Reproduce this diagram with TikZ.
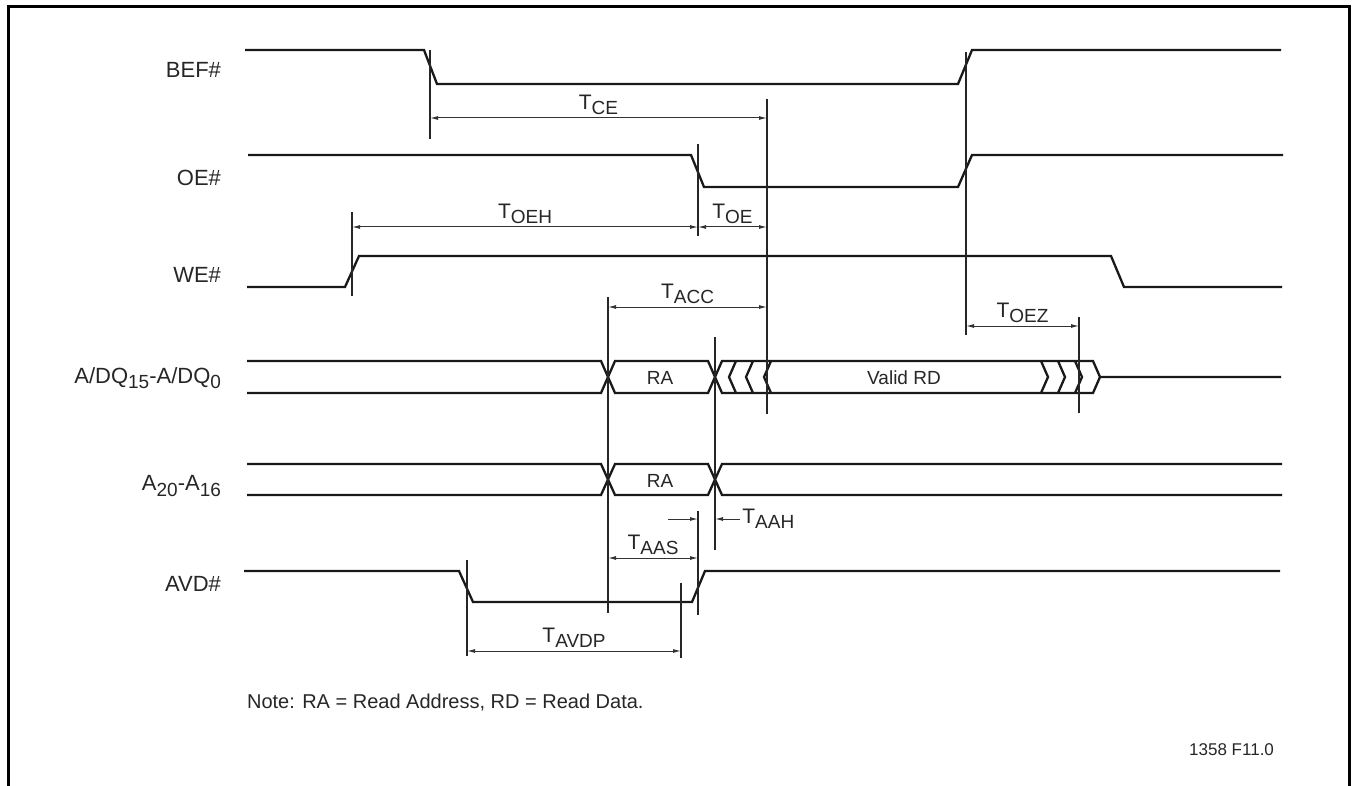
\documentclass[tikz,border=0pt]{standalone}
\usepackage{fontspec}
\setmainfont{Liberation Sans}
\usepackage{tikz}
\usetikzlibrary{arrows.meta}

\newcommand{\subs}[1]{\raisebox{-0.45ex}{\fontsize{9.5}{11}\selectfont #1}}
\newcommand{\Tsub}[1]{T\subs{#1}}

\begin{document}
\begin{tikzpicture}[x=0.5pt,y=-0.5pt,
      sig/.style={draw=black!90,line width=1.15pt},
      refline/.style={draw=black!85,line width=0.55pt},
      dim/.style={draw=black!80,line width=0.5pt,{Latex[length=4pt,width=2pt]}-{Latex[length=4pt,width=2pt]}},
      half/.style={draw=black!80,line width=0.5pt,-{Latex[length=4pt,width=2pt]}},
      lbl/.style={anchor=east,text=black!85,font=\fontsize{11}{13}\selectfont},
      tlbl/.style={above,inner sep=1.5pt,text=black!85,font=\fontsize{10.5}{12}\selectfont},
      bus/.style={text=black!85,font=\fontsize{9.5}{11}\selectfont}]
      \useasboundingbox (0,0) rectangle (1354,786);
      \draw[line width=1.5pt] (8,786) -- (8,7) -- (1349,7) -- (1349,786);

      \node[lbl] (bef) at (228,70) {BEF\#};
      \node[lbl] (oe) at (228,178) {OE\#};
      \node[lbl] (we) at (228,275) {WE\#};
      \node[lbl] (adq) at (228,378) {A/DQ\subs{15}-A/DQ\subs{0}};
      \node[lbl] (addr) at (228,486) {A\subs{20}-A\subs{16}};
      \node[lbl] (avd) at (228,584) {AVD\#};

      \draw[sig] (245,50) -- (424,50) -- (437,84) -- (958,84) -- (972,50) -- (1281,50);
      \draw[sig] (248,155) -- (691,155) -- (704,187) -- (958,187) -- (972,155) -- (1283,155);
      \draw[sig] (247,287) -- (345,287) -- (359,256) -- (1111,256) -- (1124,287) -- (1282,287);
      \draw[sig] (247,361) -- (601,361) -- (615,393) -- (708,393) -- (722,361) -- (1093,361) -- (1100,377) -- (1281,377);
      \draw[sig] (247,393) -- (601,393) -- (615,361) -- (708,361) -- (722,393) -- (1093,393) -- (1100,377);
      \foreach \x in {729,746,764}
        \draw[sig] (\x+7,361) -- (\x,377) -- (\x+7,393);
      \foreach \x in {1048,1065,1082}
        \draw[sig] (\x-7,361) -- (\x,377) -- (\x-7,393);
      \draw[sig] (247,464) -- (601,464) -- (615,495) -- (708,495) -- (722,464) -- (1282,464);
      \draw[sig] (247,495) -- (601,495) -- (615,464) -- (708,464) -- (722,495) -- (1282,495);
      \draw[sig] (244,571) -- (459,571) -- (473,602) -- (692,602) -- (705,571) -- (1280,571);

      \node[bus] (ra1) at (660,378) {RA};
      \node[bus] (ra2) at (660,481) {RA};
      \node[bus] (rd) at (904,378) {Valid RD};

      \draw[refline] (430,50) -- (430,139);
      \draw[refline] (966,52) -- (966,335);
      \draw[refline] (767,99) -- (767,414);
      \draw[refline] (698,144) -- (698,236);
      \draw[refline] (352,212) -- (352,296);
      \draw[refline] (608,297) -- (608,613);
      \draw[refline] (1079,317) -- (1079,413);
      \draw[refline] (715,337) -- (715,550);
      \draw[refline] (698,511) -- (698,615);
      \draw[refline] (467,560) -- (467,656);
      \draw[refline] (681,583) -- (681,658);

      \coordinate (ce1) at (430,118);
      \coordinate (ce2) at (767,118);
      \coordinate (oeh1) at (352,227);
      \coordinate (oeh2) at (698,227);
      \coordinate (oe2) at (767,227);
      \coordinate (acc1) at (608,307);
      \coordinate (acc2) at (767,307);
      \coordinate (oez1) at (966,326);
      \coordinate (oez2) at (1079,326);
      \coordinate (aah0) at (668,519);
      \coordinate (aah1) at (698,519);
      \coordinate (aah2) at (715,519);
      \coordinate (aah3) at (740,519);
      \coordinate (aas1) at (608,558);
      \coordinate (aas2) at (698,558);
      \coordinate (avdp1) at (467,651);
      \coordinate (avdp2) at (681,651);

      \draw[dim] (ce1) -- node[tlbl] (tce) {\Tsub{CE}} (ce2);
      \draw[dim] (oeh1) -- node[tlbl] (toeh) {\Tsub{OEH}} (oeh2);
      \draw[dim] (oeh2) -- node[tlbl] (toe) {\Tsub{OE}} (oe2);
      \draw[dim] (acc1) -- node[tlbl] (tacc) {\Tsub{ACC}} (acc2);
      \draw[dim] (oez1) -- node[tlbl] (toez) {\Tsub{OEZ}} (oez2);
      \draw[half] (aah0) -- (aah1);
      \draw[half] (aah3) -- (aah2);
      \node[anchor=west,inner sep=1pt,text=black!85,font=\fontsize{10.5}{12}\selectfont] (taah) at (aah3) {\Tsub{AAH}};
      \draw[dim] (aas1) -- node[tlbl] (taas) {\Tsub{AAS}} (aas2);
      \draw[dim] (avdp1) -- node[tlbl] (tavdp) {\Tsub{AVDP}} (avdp2);

      \node[anchor=west,text=black!85,font=\fontsize{10}{12}\selectfont] (note) at (240,703) {Note: RA = Read Address, RD = Read Data.};
      \node[anchor=east,text=black!85,font=\fontsize{8.5}{10}\selectfont] (fig) at (1281,750) {1358 F11.0};
    \end{tikzpicture}
\end{document}
